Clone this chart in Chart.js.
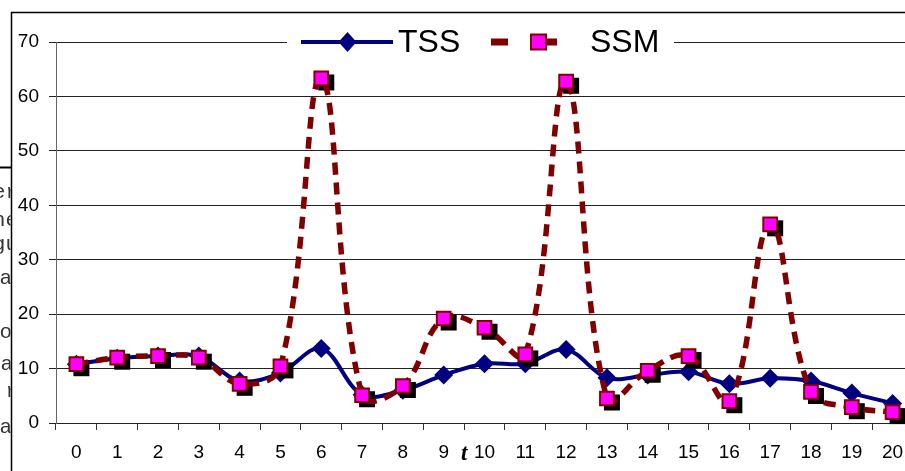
<!DOCTYPE html>
<html>
<head>
<meta charset="utf-8">
<script src="https://cdn.jsdelivr.net/npm/chart.js@4.4.1/dist/chart.umd.min.js"></script>
<style>
  html, body { margin: 0; padding: 0; background: #fff; overflow: hidden; }
  #wrap { width: 930px; height: 471px; }
</style>
</head>
<body>
<div id="wrap"><canvas id="chart" width="930" height="471"></canvas></div>
<script>
// ── Dados
const labels = ["0", "1", "2", "3", "4", "5", "6", "7", "8", "9", "10",
                "11", "12", "13", "14", "15", "16", "17", "18", "19", "20"];
const tss = [10.8, 11.9, 12.3, 12.3, 7.7, 9.2, 13.7, 5.2, 6.0, 8.8, 10.9,
             10.9, 13.5, 8.3, 8.8, 9.4, 7.2, 8.2, 7.7, 5.5, 3.6];
const ssm = [10.8, 12.0, 12.3, 12.0, 7.2, 10.4, 63.3, 5.1, 6.8, 19.2, 17.5,
             12.6, 62.7, 4.5, 9.6, 12.3, 4.0, 36.5, 5.7, 2.9, 2.0];
const seriesNames = ["TSS", "SSM"];
const axisTitle = "t";
// fragmentos de texto do documento por trás do gráfico (cortados à esquerda)
const sideText = ["er", "ne", "gu", "a", "o", "ea", "r", "a"];

Chart.defaults.font.family = "'Liberation Sans', Arial, sans-serif";
Chart.defaults.font.size = 19;
Chart.defaults.color = "#000";

// ── Sombra preta dos marcadores SSM
const shadowPlugin = {
  id: "shadow",
  beforeDatasetDraw(chart, args) {
    if (args.index !== 1) return;
    const ctx = chart.ctx;
    ctx.save();
    ctx.fillStyle = "#000";
    args.meta.data.forEach(p => {
      ctx.fillRect(p.x - 8 + 5, p.y - 8 + 4, 16, 16);
    });
    ctx.restore();
  },
};

// ── Moldura, legenda e título do eixo
const decorPlugin = {
  id: "decor",
  afterDraw(chart) {
    const ctx = chart.ctx;
    ctx.save();

    // moldura
    ctx.strokeStyle = "#000";
    ctx.lineWidth = 1.5;
    ctx.beginPath();
    ctx.moveTo(11, 12.5); ctx.lineTo(chart.width, 12.5);
    ctx.moveTo(11.5, 12); ctx.lineTo(11.5, chart.height);
    ctx.stroke();
    ctx.lineWidth = 2;
    ctx.beginPath();
    ctx.moveTo(0, 167.5); ctx.lineTo(11, 167.5);
    ctx.stroke();

    // fragmentos de texto
    ctx.save();
    ctx.beginPath();
    ctx.rect(0, 170, 10.5, 300);
    ctx.clip();
    ctx.font = "21px 'Liberation Mono', 'DejaVu Sans Mono', monospace";
    ctx.fillStyle = "#333";
    ctx.textAlign = "right";
    ctx.textBaseline = "middle";
    const ys = [192, 220, 244, 278, 332, 364, 391, 427];
    const xe = [18, 18, 18, 12, 12, 13, 18, 12];
    sideText.forEach((t, i) => ctx.fillText(t, xe[i], ys[i]));
    ctx.restore();

    // legenda
    const ly = 42;
    ctx.fillStyle = "#fff";
    ctx.fillRect(287, 28, 387, 28);
    ctx.fillStyle = "#000080";
    ctx.fillRect(301, ly - 2, 92, 4);
    ctx.beginPath();
    ctx.moveTo(347.5, ly - 10); ctx.lineTo(356.5, ly); ctx.lineTo(347.5, ly + 10); ctx.lineTo(338.5, ly);
    ctx.closePath();
    ctx.fill();
    ctx.fillStyle = "#800000";
    ctx.fillRect(491, ly - 3.5, 17, 7);
    ctx.fillRect(546, ly - 3.5, 11, 7);
    ctx.fillStyle = "#ff00ff";
    ctx.strokeStyle = "#800000";
    ctx.lineWidth = 2;
    ctx.fillRect(531, ly - 7.5, 15, 15);
    ctx.strokeRect(531, ly - 7.5, 15, 15);
    ctx.fillStyle = "#000";
    ctx.font = "32px 'Liberation Sans', Arial, sans-serif";
    ctx.textBaseline = "middle";
    ctx.textAlign = "left";
    ctx.fillText(seriesNames[0], 398, ly + 1);
    ctx.fillText(seriesNames[1], 590, ly + 1);

    // título do eixo x, entre 9 e 10
    const xs2 = chart.scales.x;
    const tx = (xs2.getPixelForTick(9) + xs2.getPixelForTick(10)) / 2;
    ctx.font = "bold italic 23px 'Liberation Serif', 'Times New Roman', serif";
    ctx.textAlign = "center";
    ctx.textBaseline = "alphabetic";
    ctx.fillText(axisTitle, tx, 460);

    ctx.restore();
  },
};

new Chart(document.getElementById("chart"), {
  type: "line",
  data: {
    labels: labels,
    datasets: [
      {
        label: seriesNames[0],
        data: tss,
        order: 1,
        borderColor: "#000080",
        backgroundColor: "#000080",
        borderWidth: 4,
        tension: 0.35,
        pointStyle: "rectRot",
        pointRadius: 9.5,
        pointBackgroundColor: "#000080",
        pointBorderColor: "#000080",
        pointBorderWidth: 0,
      },
      {
        label: seriesNames[1],
        data: ssm,
        order: 0,
        borderColor: "#800000",
        borderWidth: 5.5,
        borderDash: [12, 8],
        tension: 0.4,
        pointStyle: "rect",
        pointRadius: 9.7,
        pointBackgroundColor: "#ff00ff",
        pointBorderColor: "#800000",
        pointBorderWidth: 2,
      },
    ],
  },
  options: {
    responsive: false,
    animation: false,
    layout: { padding: { top: 42, right: 17, left: 0, bottom: 0 } },
    plugins: {
      legend: { display: false },
      tooltip: { enabled: false },
    },
    scales: {
      x: {
        offset: true,
        grid: {
          offset: true,
          drawOnChartArea: false,
          drawTicks: true,
          tickLength: 7,
          tickColor: "#333",
          lineWidth: 1,
        },
        border: { display: false },
        ticks: { padding: 11, maxRotation: 0, autoSkip: false },
        afterFit: s => { s.height = 48; },
      },
      y: {
        min: 0,
        max: 70,
        grid: { color: "#222", tickColor: "#222", tickLength: 7, lineWidth: 1 },
        border: { display: true, color: "#666", width: 1 },
        ticks: { stepSize: 10, padding: 10 },
        afterFit: s => { s.width = 56; },
      },
    },
  },
  plugins: [shadowPlugin, decorPlugin],
});
</script>
</body>
</html>
